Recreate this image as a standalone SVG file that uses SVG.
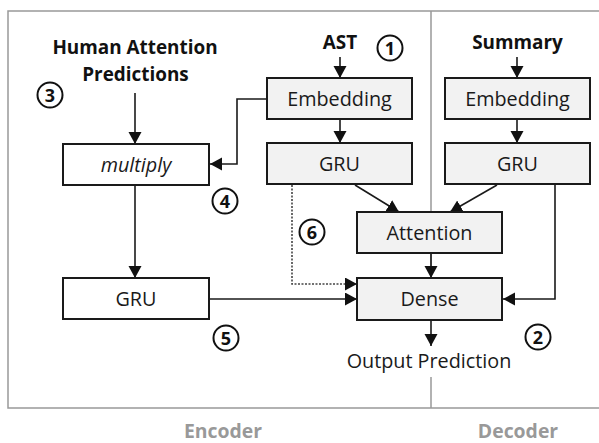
<svg xmlns="http://www.w3.org/2000/svg" width="599" height="443" viewBox="0 0 599 443">
<style>
.frame{fill:none;stroke:#999;stroke-width:1.5}
.box{stroke:#1a1a1a;stroke-width:2}
.g{fill:#f2f2f2}
.w{fill:#fff}
.lbl{font-family:"Open Sans","Liberation Sans",sans-serif;font-size:19.8px;fill:#1a1a1a;text-anchor:middle}
.hd{font-family:"Open Sans","Liberation Sans",sans-serif;font-size:18.9px;font-weight:bold;fill:#111;text-anchor:middle}
.sec{font-family:"Open Sans","Liberation Sans",sans-serif;font-size:19.4px;font-weight:bold;fill:#999;text-anchor:middle}
.num circle{fill:#fff;stroke:#111;stroke-width:2}
.num text{font-family:"Open Sans","Liberation Sans",sans-serif;font-size:18px;font-weight:bold;fill:#111;text-anchor:middle}
.c{fill:none;stroke:#1a1a1a;stroke-width:1.6}
.dot{stroke-dasharray:2 1.5;stroke:#444}
</style>
<defs>
<marker id="ah" markerUnits="userSpaceOnUse" markerWidth="14" markerHeight="14" refX="12" refY="6.5" orient="auto">
<path d="M0,0 L12,6.5 L0,13 Z" fill="#111"/>
</marker>
</defs>
<g id="frame">
<path class="frame" d="M599,11 H8 V408 H599"/>
<line class="frame" x1="431" y1="11" x2="431" y2="408"/>
<rect x="424" y="321" width="14" height="56" fill="#fff"/>
</g>
<g id="labels">
<text class="hd" x="135" y="54">Human Attention</text>
<text class="hd" x="135.5" y="81">Predictions</text>
<text class="hd" x="340" y="49">AST</text>
<text class="hd" x="517.5" y="49">Summary</text>
<text class="lbl" x="429" y="368">Output Prediction</text>
<text class="sec" x="223" y="438">Encoder</text>
<text class="sec" x="518" y="438">Decoder</text>
</g>
<g id="connectors">
<line class="c" x1="340" y1="57" x2="340" y2="78" marker-end="url(#ah)"/>
<line class="c" x1="517" y1="57" x2="517" y2="78" marker-end="url(#ah)"/>
<line class="c" x1="340" y1="119" x2="340" y2="143" marker-end="url(#ah)"/>
<line class="c" x1="517" y1="119" x2="517" y2="143" marker-end="url(#ah)"/>
<line class="c" x1="135" y1="93" x2="135" y2="144" marker-end="url(#ah)"/>
<path class="c" d="M267,99 H237 V164 H210" marker-end="url(#ah)"/>
<line class="c" x1="135" y1="185" x2="135" y2="278" marker-end="url(#ah)"/>
<line class="c" x1="209" y1="299" x2="357" y2="299" marker-end="url(#ah)"/>
<path class="c dot" d="M292,185 V284 H357" marker-end="url(#ah)"/>
<line class="c" x1="355" y1="185" x2="399" y2="212" marker-end="url(#ah)"/>
<line class="c" x1="497" y1="185" x2="450" y2="212" marker-end="url(#ah)"/>
<line class="c" x1="431" y1="253" x2="431" y2="278" marker-end="url(#ah)"/>
<path class="c" d="M555,184 V299 H503" marker-end="url(#ah)"/>
<line class="c" x1="431" y1="320" x2="431" y2="346" marker-end="url(#ah)"/>
</g>
<g id="ast-embedding"><rect class="box g" x="267" y="78" width="145" height="41"/><text class="lbl" x="339.5" y="106">Embedding</text></g>
<g id="ast-gru"><rect class="box g" x="267" y="143" width="145" height="41"/><text class="lbl" x="339.5" y="171">GRU</text></g>
<g id="sum-embedding"><rect class="box g" x="445" y="78" width="145" height="41"/><text class="lbl" x="517.5" y="106">Embedding</text></g>
<g id="sum-gru"><rect class="box g" x="445" y="143" width="145" height="41"/><text class="lbl" x="517.5" y="171">GRU</text></g>
<g id="multiply"><rect class="box w" x="63" y="144" width="146" height="41"/><text class="lbl" x="136" y="171.5" font-style="italic">multiply</text></g>
<g id="enc-gru"><rect class="box w" x="63" y="278" width="146" height="41"/><text class="lbl" x="136" y="306">GRU</text></g>
<g id="attention"><rect class="box g" x="357" y="212" width="145" height="41"/><text class="lbl" x="429.5" y="240">Attention</text></g>
<g id="dense"><rect class="box g" x="357" y="278" width="145" height="42"/><text class="lbl" x="429.5" y="306">Dense</text></g>
<g id="numbers">
<g class="num"><circle cx="390" cy="48" r="12.5"/><text x="390" y="54.5">1</text></g>
<g class="num"><circle cx="538" cy="337" r="12.5"/><text x="538" y="343.5">2</text></g>
<g class="num"><circle cx="50" cy="95" r="12.5"/><text x="50" y="101.5">3</text></g>
<g class="num"><circle cx="225" cy="201" r="12.5"/><text x="225" y="207.5">4</text></g>
<g class="num"><circle cx="226" cy="338" r="12.5"/><text x="226" y="344.5">5</text></g>
<g class="num"><circle cx="312" cy="232" r="12.5"/><text x="312" y="238.5">6</text></g>
</g>
</svg>
